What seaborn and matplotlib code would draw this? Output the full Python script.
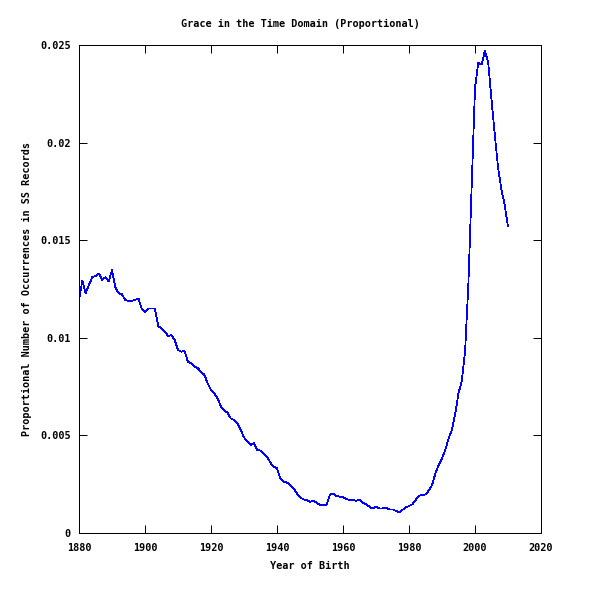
import numpy as np
import pandas as pd
import seaborn as sns
import matplotlib
matplotlib.use("Agg")
import matplotlib.pyplot as plt

# values, one per year 1880-2010
years = list(range(1880, 2011))
share = [
    0.01190, 0.01293, 0.01228, 0.01270, 0.01310, 0.01317, 0.01330, 0.01296, 0.01310, 0.01288,  # 1880s
    0.01347, 0.01259, 0.01228, 0.01224, 0.01194, 0.01189, 0.01190, 0.01194, 0.01202, 0.01150,  # 1890s
    0.01134, 0.01150, 0.01150, 0.01150, 0.01060, 0.01048, 0.01031, 0.01010, 0.01014, 0.00989,  # 1900s
    0.00937, 0.00929, 0.00932, 0.00878, 0.00870, 0.00852, 0.00844, 0.00826, 0.00810, 0.00767,  # 1910s
    0.00733, 0.00716, 0.00690, 0.00647, 0.00630, 0.00616, 0.00587, 0.00579, 0.00562, 0.00528,  # 1920s
    0.00490, 0.00468, 0.00451, 0.00460, 0.00425, 0.00422, 0.00408, 0.00391, 0.00360, 0.00340,  # 1930s
    0.00331, 0.00280, 0.00263, 0.00258, 0.00246, 0.00229, 0.00203, 0.00183, 0.00172, 0.00169,  # 1940s
    0.00160, 0.00165, 0.00155, 0.00143, 0.00143, 0.00143, 0.00195, 0.00203, 0.00190, 0.00186,  # 1950s
    0.00183, 0.00174, 0.00169, 0.00169, 0.00165, 0.00169, 0.00155, 0.00147, 0.00135, 0.00125,  # 1960s
    0.00135, 0.00126, 0.00126, 0.00131, 0.00121, 0.00121, 0.00114, 0.00106, 0.00118, 0.00131,  # 1970s
    0.00138, 0.00147, 0.00169, 0.00190, 0.00195, 0.00198, 0.00217, 0.00246, 0.00306, 0.00348,  # 1980s
    0.00383, 0.00425, 0.00485, 0.00528, 0.00610, 0.00716, 0.00780, 0.00930, 0.01280, 0.01780,  # 1990s
    0.02280, 0.02410, 0.02400, 0.02470, 0.02410, 0.02220, 0.02040, 0.01870, 0.01760, 0.01680,  # 2000s
    0.01570,                                                                                   # 2010
]

x_ticks = [1880, 1900, 1920, 1940, 1960, 1980, 2000, 2020]
y_ticks = [0, 0.005, 0.01, 0.015, 0.02, 0.025]
y_tick_labels = ["0", "0.005", "0.01", "0.015", "0.02", "0.025"]

df = pd.DataFrame({"year": years, "share": share})

sns.set_style("ticks")
plt.rcParams["font.family"] = ["DejaVu Sans Mono"]
plt.rcParams["font.weight"] = "bold"
plt.rcParams["text.color"] = "black"
plt.rcParams["axes.labelcolor"] = "black"
fsize = 7.3

fig = plt.figure(figsize=(6, 6), dpi=100)
ax = fig.add_axes([79 / 600, 1 - 533 / 600, 462 / 600, 488 / 600])

sns.lineplot(data=df, x="year", y="share", color="#0000ff", linewidth=0.55, ax=ax,
             antialiased=False)

ax.set_xlim(1880, 2020)
ax.set_ylim(0, 0.025)
ax.set_xticks(x_ticks)
ax.set_xticklabels([str(t) for t in x_ticks], fontsize=fsize, fontweight="bold")
ax.set_yticks(y_ticks)
ax.set_yticklabels(y_tick_labels, fontsize=fsize, fontweight="bold")
ax.tick_params(direction="in", length=6, width=0.72, top=True, right=True, colors="black")
ax.tick_params(axis="x", pad=7)
ax.tick_params(axis="y", pad=6)
for s in ax.spines.values():
    s.set_visible(True)
    s.set_linewidth(0.72)
    s.set_color("black")

ax.set_xlabel("Year of Birth", fontsize=fsize, fontweight="bold", labelpad=6)
ax.set_ylabel("Proportional Number of Occurrences in SS Records", fontsize=fsize,
              fontweight="bold", labelpad=6)
fig.text(0.5, 1 - 24 / 600, "Grace in the Time Domain (Proportional)", ha="center",
         va="center", fontsize=fsize, fontweight="bold", color="black")

fig.savefig("out.png", dpi=100, facecolor="white")
